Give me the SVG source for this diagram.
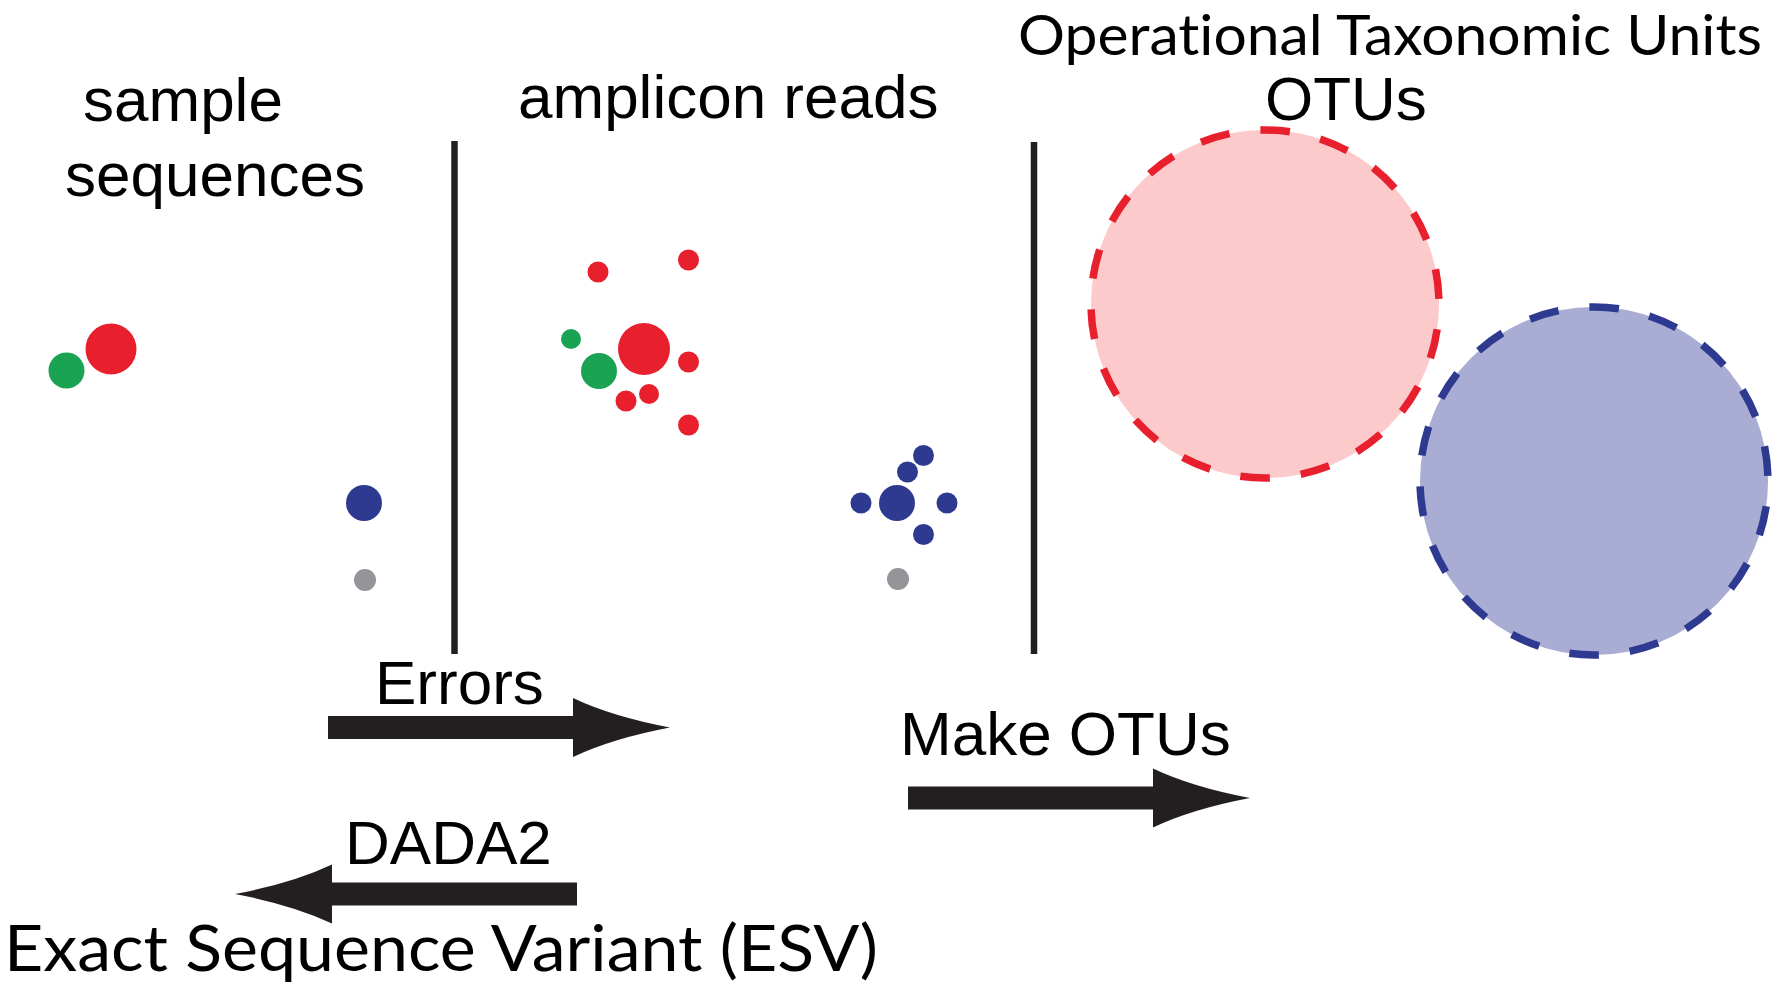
<svg xmlns="http://www.w3.org/2000/svg" xmlns:xlink="http://www.w3.org/1999/xlink" width="1787" height="994" viewBox="0 0 1787 994">
<style>
.lbl{font-family:"Liberation Sans",Arial,Helvetica,sans-serif;font-size:62px;fill:#000}
.cal{font-family:Lato,"Open Sans","Liberation Sans",sans-serif;fill:#000;font-variant-ligatures:none;font-feature-settings:"liga" 0,"dlig" 0}
.r{fill:#e8202e}
.g{fill:#1aa352}
.b{fill:#2e3a90}
.gr{fill:#939598}
.div{stroke:#231f20;stroke-width:6.5;fill:none}
.arrow{fill:#231f20}
.otu{stroke-width:7.5;stroke-dasharray:29.7 31.04;stroke-dashoffset:35.4}
</style>
<defs>
<path id="arr" d="M0,-11.5 H245 V-29.5 Q284,-11 342,0 Q284,11 245,29.5 V11.5 H0 Z"/>
</defs>
<rect width="1787" height="994" fill="#fff"/>

<g id="label-sample">
<text class="lbl" x="83" y="121">sample</text>
<text class="lbl" x="65" y="196">sequences</text>
</g>
<g id="label-amplicon">
<text class="lbl" x="518" y="118">amplicon reads</text>
</g>
<g id="label-otu">
<text class="cal" x="1018" y="55" font-size="56" textLength="744" lengthAdjust="spacingAndGlyphs">Operational Taxonomic Units</text>
<text class="lbl" x="1265" y="120">OTUs</text>
</g>

<g id="dividers">
<line class="div" x1="454.5" y1="141" x2="454.5" y2="654"/>
<line class="div" x1="1034" y1="142" x2="1034" y2="654"/>
</g>

<g id="sample-dots">
<circle class="g" cx="66.5" cy="370.5" r="18"/>
<circle class="r" cx="111" cy="349" r="25.5"/>
<circle class="b" cx="364" cy="503" r="18"/>
<circle class="gr" cx="365" cy="580" r="11"/>
</g>

<g id="amplicon-red-cluster">
<circle class="r" cx="598" cy="272" r="10.5"/>
<circle class="r" cx="688.5" cy="260" r="10.5"/>
<circle class="g" cx="571" cy="339" r="10"/>
<circle class="r" cx="644" cy="349" r="26"/>
<circle class="g" cx="599" cy="371" r="18"/>
<circle class="r" cx="688.5" cy="362" r="10.5"/>
<circle class="r" cx="626" cy="401" r="10.5"/>
<circle class="r" cx="649" cy="394" r="10"/>
<circle class="r" cx="688.5" cy="425" r="10.5"/>
</g>

<g id="amplicon-blue-cluster">
<circle class="b" cx="897" cy="503" r="18"/>
<circle class="b" cx="861" cy="503" r="10.5"/>
<circle class="b" cx="907.5" cy="472" r="10.5"/>
<circle class="b" cx="923.5" cy="455.5" r="10.5"/>
<circle class="b" cx="947" cy="503" r="10.5"/>
<circle class="b" cx="923.5" cy="534.5" r="10.5"/>
<circle class="gr" cx="898" cy="579" r="11"/>
</g>

<g id="otu-red">
<circle class="otu" cx="1265" cy="304" r="174" fill="#fdcacc" stroke="#e8202e"/>
</g>
<g id="otu-blue">
<circle class="otu" cx="1594" cy="481" r="174" fill="#aaadd3" stroke="#2e3a90"/>
</g>

<g id="connectors">
<use xlink:href="#arr" class="arrow" transform="translate(328,727.5)"/>
<use xlink:href="#arr" class="arrow" transform="translate(908,798)"/>
<use xlink:href="#arr" class="arrow" transform="translate(577,894) scale(-1,1)"/>
</g>

<g id="connector-labels">
<text class="lbl" x="375" y="704">Errors</text>
<text class="lbl" x="900" y="755">Make OTUs</text>
<text class="lbl" x="345" y="864">DADA2</text>
<text class="cal" x="4" y="971" font-size="64" textLength="874" lengthAdjust="spacingAndGlyphs">Exact Sequence Variant (ESV)</text>
</g>
</svg>
